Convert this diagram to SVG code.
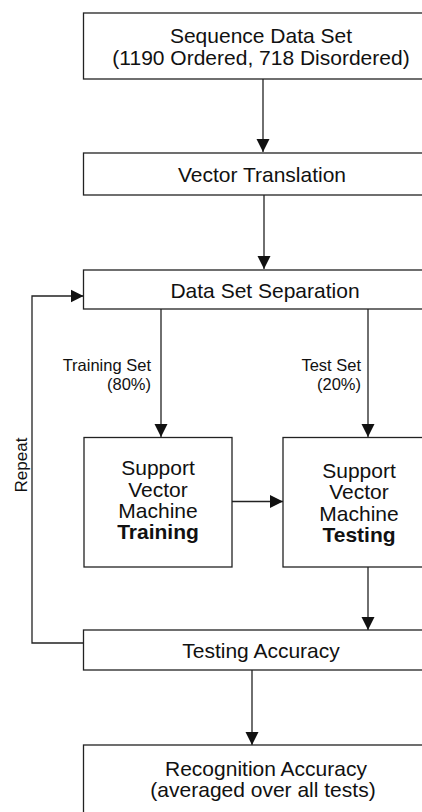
<svg xmlns="http://www.w3.org/2000/svg" width="422" height="812" viewBox="0 0 422 812">
<style>
.box{fill:#fff;stroke:#222;stroke-width:1.3}
.t{font-family:"Liberation Sans",Arial,sans-serif;font-size:21px;fill:#111;text-anchor:middle}
.b{font-weight:bold}
.lbl{font-family:"Liberation Sans",Arial,sans-serif;font-size:16.5px;fill:#111;text-anchor:end}
.c{fill:none;stroke:#222;stroke-width:1.3}
</style>
<defs>
<marker id="ah" markerUnits="userSpaceOnUse" markerWidth="14" markerHeight="14" viewBox="0 0 14 14" refX="13" refY="7" orient="auto">
<path d="M0,0.5 L13,7 L0,13.5 Z" fill="#111"/>
</marker>
</defs>
<rect width="422" height="812" fill="#fff"/>
<g id="connectors">
<path class="c" d="M263,79 V152" marker-end="url(#ah)"/>
<path class="c" d="M264,195 V269" marker-end="url(#ah)"/>
<path class="c" d="M161,309 V437" marker-end="url(#ah)"/>
<path class="c" d="M368,309 V437" marker-end="url(#ah)"/>
<path class="c" d="M232,501.5 H283" marker-end="url(#ah)"/>
<path class="c" d="M368,567 V630" marker-end="url(#ah)"/>
<path class="c" d="M252,670 V745" marker-end="url(#ah)"/>
<path class="c" d="M84,643 H32 V296 H83.5" marker-end="url(#ah)"/>
<text class="lbl" x="151" y="371">Training Set</text>
<text class="lbl" x="151" y="390">(80%)</text>
<text class="lbl" x="361" y="371">Test Set</text>
<text class="lbl" x="361" y="390">(20%)</text>
<text class="lbl" style="text-anchor:middle;font-size:17px" transform="translate(27,465) rotate(-90)">Repeat</text>
</g>
<g id="sequence">
<rect class="box" x="83.5" y="13" width="360" height="66"/>
<text class="t" x="261" y="43">Sequence Data Set</text>
<text class="t" x="261" y="65">(1190 Ordered, 718 Disordered)</text>
</g>
<g id="vector">
<rect class="box" x="83.5" y="153" width="360" height="42"/>
<text class="t" x="262" y="182">Vector Translation</text>
</g>
<g id="separation">
<rect class="box" x="83.5" y="270" width="360" height="39"/>
<text class="t" x="265" y="298">Data Set Separation</text>
</g>
<g id="training">
<rect class="box" x="84" y="437.5" width="148" height="129.5"/>
<text class="t" x="158" y="475">Support</text>
<text class="t" x="158" y="497">Vector</text>
<text class="t" x="158" y="518">Machine</text>
<text class="t b" x="158" y="539">Training</text>
</g>
<g id="testing">
<rect class="box" x="283" y="437.5" width="160" height="129.5"/>
<text class="t" x="359" y="478">Support</text>
<text class="t" x="359" y="499">Vector</text>
<text class="t" x="359" y="521">Machine</text>
<text class="t b" x="359" y="542">Testing</text>
</g>
<g id="accuracy">
<rect class="box" x="83.5" y="630" width="360" height="40"/>
<text class="t" x="261" y="658">Testing Accuracy</text>
</g>
<g id="recognition">
<rect class="box" x="83.5" y="745" width="360" height="80"/>
<text class="t" x="266" y="776">Recognition Accuracy</text>
<text class="t" x="263" y="797">(averaged over all tests)</text>
</g>
</svg>
